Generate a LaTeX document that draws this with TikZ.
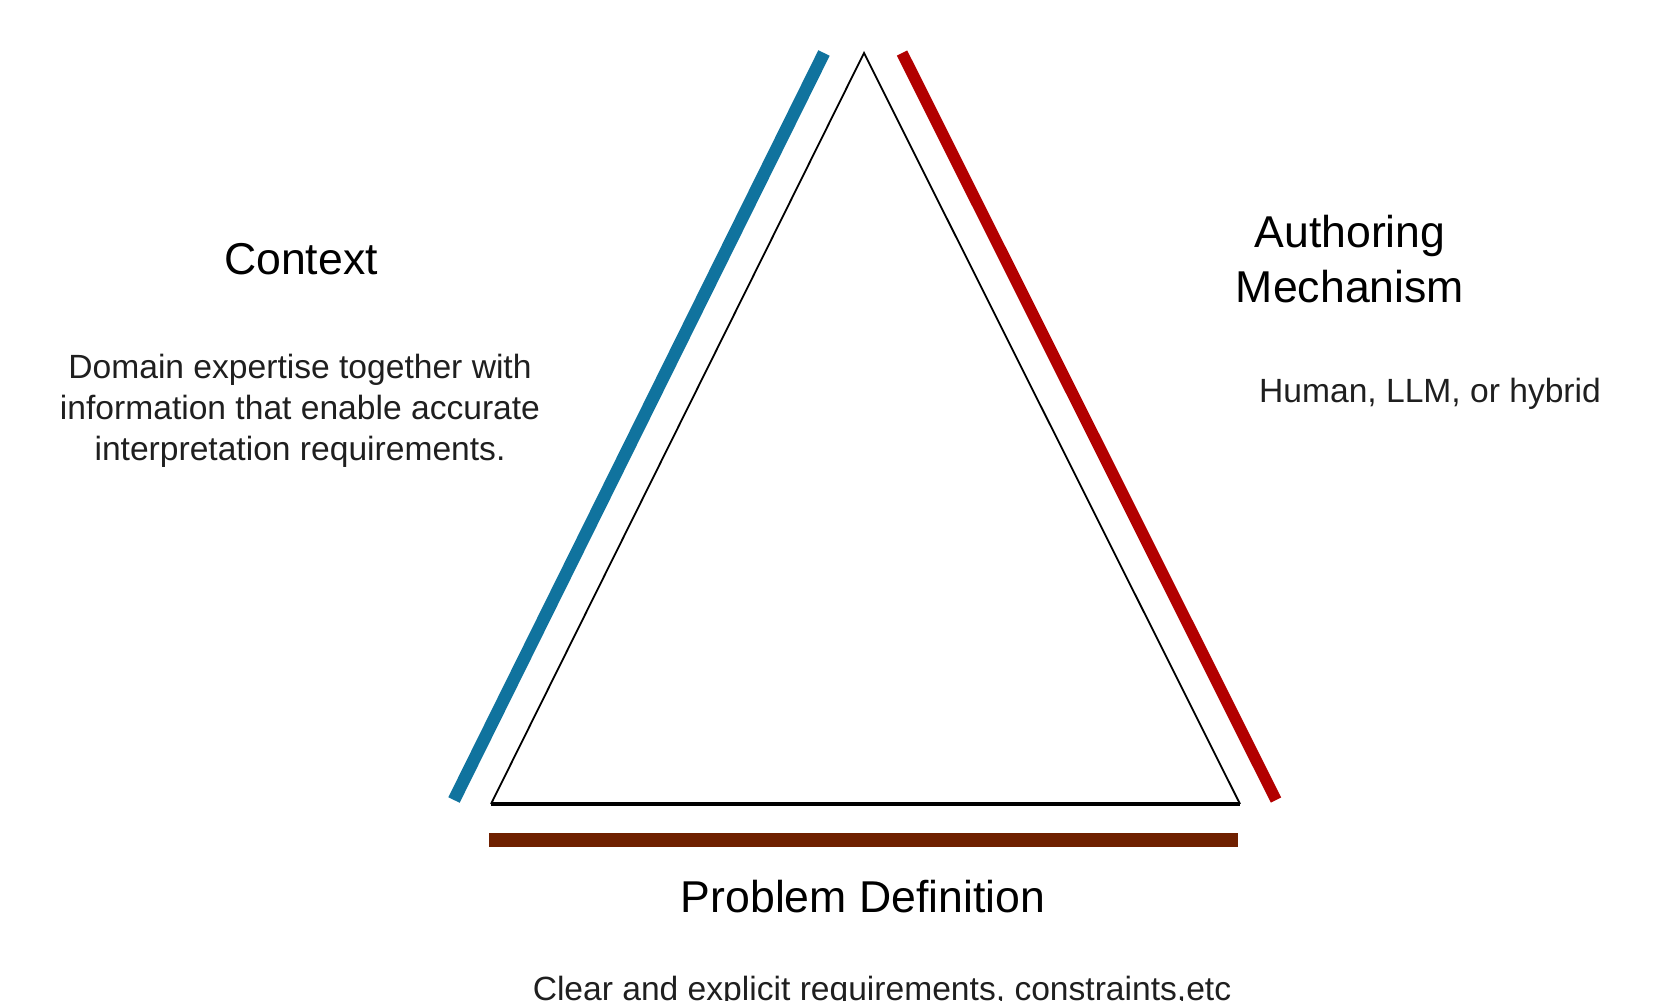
\documentclass[tikz,border=0pt]{standalone}
\usepackage{fontspec}
\setmainfont{Liberation Sans}
\usepackage{xcolor}
\definecolor{ctxblue}{HTML}{10739E}
\definecolor{authred}{HTML}{B20000}
\definecolor{probbrown}{HTML}{6F2000}
\tikzset{
title/.style={font=\fontsize{22.3}{27.5}\selectfont, align=center},
note/.style={font=\fontsize{16.8}{20.5}\selectfont, align=center, text=black!88},
side/.style={line width=#1, line cap=butt}
}

\begin{document}
\begin{tikzpicture}[x=0.5pt, y=-0.5pt]
\useasboundingbox (0,0) rectangle (1666,1001);
% the triangle
\coordinate (top) at (864,53);
\coordinate (left) at (491,804);
\coordinate (right) at (1240,804);
\draw[line width=0.9pt] (left) -- (top) -- (right);
\draw[line width=1.8pt] (left) -- (right);
% coloured bars along the sides
\coordinate (ctx0) at (454,800);
\coordinate (ctx1) at (824,53);
\coordinate (auth0) at (902,53);
\coordinate (auth1) at (1276,800);
\coordinate (prob0) at (489,840);
\coordinate (prob1) at (1238,840);
\draw[side=6.3pt, ctxblue] (ctx0) -- (ctx1);
\draw[side=5.8pt, authred] (auth0) -- (auth1);
\draw[side=7pt, probbrown] (prob0) -- (prob1);
% labels
\node[title, anchor=base] (context) at (301,274) {Context};
\node[note] (context text) at (300,411) {Domain expertise together with\\information that enable accurate\\interpretation requirements.};
\node[title] (author) at (1350,259) {Authoring\\Mechanism};
\node[note, anchor=base] (author text) at (1430,402) {Human, LLM, or hybrid};
\node[title, anchor=base] (problem) at (863,912) {Problem Definition};
\node[note, anchor=base] (problem text) at (882,1000) {Clear and explicit requirements, constraints,etc};
\end{tikzpicture}
\end{document}
